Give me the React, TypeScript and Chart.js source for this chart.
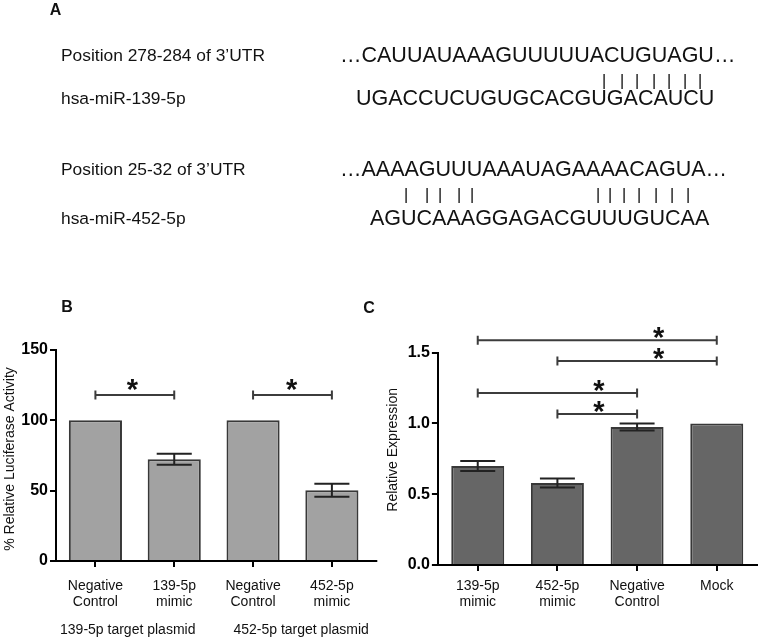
import React, { useEffect, useRef } from "react";
import { Chart, registerables } from "chart.js";

Chart.register(...registerables);

const FONT = "'Liberation Sans', Arial, Helvetica, sans-serif";

// ---------- Panel B data ----------
const bCategories = [["Negative", "Control"], ["139-5p", "mimic"], ["Negative", "Control"], ["452-5p", "mimic"]];
const bValues = [100, 72.3, 100, 50.3];
const bErrors = [0, 3.9, 0, 4.6];
const bTicks = [0, 50, 100, 150];
const bSigFrom = [0, 2];
const bSigTo = [1, 3];
const bSigY = [118, 118];
const bSigStar = [0.47, 2.49];
const bGroupLabels = ["139-5p target plasmid", "452-5p target plasmid"];
const bGroupPos = [0.41, 2.61];
const bYTitle = "% Relative Luciferase Activity";

// ---------- Panel C data ----------
const cCategories = [["139-5p", "mimic"], ["452-5p", "mimic"], ["Negative", "Control"], ["Mock"]];
const cValues = [0.7, 0.58, 0.975, 1.0];
const cErrors = [0.035, 0.032, 0.025, 0];
const cTicks = [0, 0.5, 1.0, 1.5];
const cSigFrom = [0, 1, 0, 1];
const cSigTo = [3, 3, 2, 2];
const cSigY = [1.588, 1.441, 1.215, 1.067];
const cSigStar = [2.27, 2.27, 1.52, 1.52];
const cYTitle = "Relative Expression";

const STAR_SIZE = 29;

type Extras = {
  errors: number[];
  sigFrom: number[];
  sigTo: number[];
  sigY: number[];
  sigStar: number[];
  starOffset: number;
  groupLabels: string[];
  groupPos: number[];
  groupOffset: number;
  yTitle: string;
  yTitleDx: number;
  yTitleDy: number;
  axisExt: number;
};

function makeExtrasPlugin(ex: Extras) {
  return {
    id: "extras",
    afterDraw(chart: any) {
      const ctx = chart.ctx;
      const xs = chart.scales.x;
      const ys = chart.scales.y;
      const ca = chart.chartArea;
      const meta = chart.getDatasetMeta(0);
      ctx.save();
      // axis extension
      ctx.strokeStyle = "#000";
      ctx.lineWidth = 2;
      ctx.beginPath();
      ctx.moveTo(ca.right - 1, ca.bottom);
      ctx.lineTo(ca.right + ex.axisExt, ca.bottom);
      ctx.stroke();
      // error bars
      ctx.strokeStyle = "#222";
      ctx.lineWidth = 2;
      const vals = chart.data.datasets[0].data as number[];
      meta.data.forEach((bar: any, i: number) => {
        const e = ex.errors[i];
        if (!e) return;
        const x = bar.x;
        const half = bar.width * 0.33;
        const yt = ys.getPixelForValue(vals[i] + e);
        const yb = ys.getPixelForValue(vals[i] - e);
        ctx.beginPath();
        ctx.moveTo(x, yt);
        ctx.lineTo(x, yb);
        ctx.moveTo(x - half, yt);
        ctx.lineTo(x + half, yt);
        ctx.moveTo(x - half, yb);
        ctx.lineTo(x + half, yb);
        ctx.stroke();
      });
      // significance brackets
      ctx.strokeStyle = "#3c3c3c";
      ctx.lineWidth = 2;
      ctx.fillStyle = "#111";
      ctx.font = `bold ${STAR_SIZE}px ${FONT}`;
      ctx.textAlign = "center";
      ctx.textBaseline = "alphabetic";
      ex.sigY.forEach((v, i) => {
        const y = ys.getPixelForValue(v);
        const x1 = xs.getPixelForValue(ex.sigFrom[i]);
        const x2 = xs.getPixelForValue(ex.sigTo[i]);
        ctx.beginPath();
        ctx.moveTo(x1, y);
        ctx.lineTo(x2, y);
        ctx.moveTo(x1, y - 4.5);
        ctx.lineTo(x1, y + 4.5);
        ctx.moveTo(x2, y - 4.5);
        ctx.lineTo(x2, y + 4.5);
        ctx.stroke();
        const sx = xs.getPixelForValue(ex.sigStar[i]);
        const sy = y - ex.starOffset;
        ctx.fillText("*", sx, sy + 0.58 * STAR_SIZE);
      });
      // group labels
      ctx.font = `14px ${FONT}`;
      ctx.fillStyle = "#111";
      ctx.textBaseline = "middle";
      ex.groupLabels.forEach((t, i) => {
        ctx.fillText(t, xs.getPixelForValue(ex.groupPos[i]), ca.bottom + ex.groupOffset);
      });
      // y title
      ctx.save();
      ctx.translate(ca.left + ex.yTitleDx, (ca.top + ca.bottom) / 2 + ex.yTitleDy);
      ctx.rotate(-Math.PI / 2);
      ctx.font = `14px ${FONT}`;
      ctx.textAlign = "center";
      ctx.textBaseline = "middle";
      ctx.fillText(ex.yTitle, 0, 0);
      ctx.restore();
      ctx.restore();
    },
  };
}

type ChartSpec = {
  labels: any[];
  values: number[];
  ticks: number[];
  max: number;
  fill: string;
  barPct: number;
  padTop: number;
  padRight: number;
  yWidth: number;
  xHeight: number;
  xPad: number;
  fmt: (v: number) => string;
  extras: Extras;
};

function BarPanel({ spec, left, top, width, height }: { spec: ChartSpec; left: number; top: number; width: number; height: number }) {
  const ref = useRef<HTMLCanvasElement>(null);
  useEffect(() => {
    if (!ref.current) return;
    const axisGrid = {
      offset: false,
      drawOnChartArea: false,
      drawTicks: true,
      tickLength: 6,
      color: "#000",
      lineWidth: 2,
    };
    const chart = new Chart(ref.current, {
      type: "bar",
      data: {
        labels: spec.labels,
        datasets: [
          {
            data: spec.values,
            backgroundColor: spec.fill,
            borderColor: "#383838",
            borderWidth: 2,
            categoryPercentage: 1,
            barPercentage: spec.barPct,
          },
        ],
      },
      options: {
        animation: false,
        responsive: false,
        maintainAspectRatio: false,
        devicePixelRatio: 1,
        layout: { padding: { top: spec.padTop, right: spec.padRight, left: 0, bottom: 0 } },
        plugins: {
          legend: { display: false },
          tooltip: { enabled: false },
          title: { display: false },
        },
        scales: {
          x: {
            offset: true,
            grid: axisGrid as any,
            border: { display: true, color: "#000", width: 2 },
            ticks: {
              font: { family: FONT, size: 14, lineHeight: 1.16 },
              color: "#111",
              padding: spec.xPad,
              maxRotation: 0,
              autoSkip: false,
            },
            afterFit: (s: any) => {
              s.height = spec.xHeight;
            },
          },
          y: {
            min: 0,
            max: spec.max,
            grid: axisGrid as any,
            border: { display: true, color: "#000", width: 2 },
            afterBuildTicks: (s: any) => {
              s.ticks = spec.ticks.map((v) => ({ value: v }));
            },
            ticks: {
              font: { family: FONT, size: 16, weight: "bold" },
              color: "#000",
              padding: 2,
              callback: (v: any) => spec.fmt(Number(v)),
            },
            afterFit: (s: any) => {
              s.width = spec.yWidth;
            },
          },
        },
      },
      plugins: [makeExtrasPlugin(spec.extras)],
    });
    return () => chart.destroy();
  }, []);
  return (
    <canvas
      ref={ref}
      width={width}
      height={height}
      style={{ position: "absolute", left, top, width, height }}
    />
  );
}

function T({ x, y, size, bold, center, children }: any) {
  return (
    <div
      style={{
        position: "absolute",
        left: x,
        top: y,
        fontSize: size,
        fontWeight: bold ? "bold" : "normal",
        lineHeight: 1,
        whiteSpace: "pre",
        transform: center ? "translate(-50%, -50%)" : "translateY(-50%)",
      }}
    >
      {children}
    </div>
  );
}

function PairBar({ x, y }: { x: number; y: number }) {
  return (
    <div
      style={{
        position: "absolute",
        left: Math.round(x - 2),
        top: Math.round(y - 9),
        fontSize: 16,
        lineHeight: "18px",
        height: 18,
        color: "#000",
        whiteSpace: "pre",
      }}
    >
      |
    </div>
  );
}

const pairBars1 = [604, 622, 637, 654, 669, 685, 700];
const pairBars2 = [406, 427, 440, 459, 472, 598, 610, 624, 639, 656, 672, 688];

export default function App() {
  const bSpec: ChartSpec = {
    labels: bCategories,
    values: bValues,
    ticks: bTicks,
    max: 150,
    fill: "#a2a2a2",
    barPct: 0.674,
    padTop: 60,
    padRight: 8.7,
    yWidth: 56,
    xHeight: 78,
    xPad: 11,
    fmt: (v) => String(v),
    extras: {
      errors: bErrors,
      sigFrom: bSigFrom,
      sigTo: bSigTo,
      sigY: bSigY,
      sigStar: bSigStar,
      starOffset: 13,
      groupLabels: bGroupLabels,
      groupPos: bGroupPos,
      groupOffset: 69,
      yTitle: bYTitle,
      yTitleDx: -46,
      yTitleDy: 3.5,
      axisExt: 6,
    },
  };
  const cSpec: ChartSpec = {
    labels: cCategories,
    values: cValues,
    ticks: cTicks,
    max: 1.5,
    fill: "#666666",
    barPct: 0.665,
    padTop: 62.7,
    padRight: 3.4,
    yWidth: 57.9,
    xHeight: 74,
    xPad: 7,
    fmt: (v) => v.toFixed(1),
    extras: {
      errors: cErrors,
      sigFrom: cSigFrom,
      sigTo: cSigTo,
      sigY: cSigY,
      sigStar: cSigStar,
      starOffset: 10,
      groupLabels: [],
      groupPos: [],
      groupOffset: 0,
      yTitle: cYTitle,
      yTitleDx: -45,
      yTitleDy: -9,
      axisExt: 1,
    },
  };
  return (
    <div
      style={{
        position: "absolute",
        left: 0,
        top: 0,
        width: 760,
        height: 639,
        background: "#fff",
        fontFamily: FONT,
        color: "#111",
        overflow: "hidden",
      }}
    >
      <BarPanel spec={bSpec} left={0} top={290} width={380} height={349} />
      <BarPanel spec={cSpec} left={380} top={290} width={380} height={349} />

      <div style={{ position: "absolute", left: 0, top: 0, width: 760, height: 320, opacity: 0.995, willChange: "transform" }}>
        <T x={55.5} y={10} size={16} bold center>A</T>
        <T x={67} y={307} size={16} bold center>B</T>
        <T x={369} y={308} size={16} bold center>C</T>

        <T x={61} y={56} size={17.4}>Position 278-284 of 3’UTR</T>
        <T x={340} y={56} size={21.5}>…CAUUAUAAAGUUUUUACUGUAGU…</T>
        {pairBars1.map((x, i) => (
          <PairBar key={"p1" + i} x={x} y={81} />
        ))}
        <T x={61} y={99} size={17.4}>hsa-miR-139-5p</T>
        <T x={356} y={99} size={21.5}>UGACCUCUGUGCACGUGACAUCU</T>

        <T x={61} y={170} size={17.4}>Position 25-32 of 3’UTR</T>
        <T x={340} y={170} size={21.5}>…AAAAGUUUAAAUAGAAAACAGUA…</T>
        {pairBars2.map((x, i) => (
          <PairBar key={"p2" + i} x={x} y={195} />
        ))}
        <T x={61} y={219} size={17.4}>hsa-miR-452-5p</T>
        <T x={370} y={219} size={21.5}>AGUCAAAGGAGACGUUUGUCAA</T>
      </div>
    </div>
  );
}
